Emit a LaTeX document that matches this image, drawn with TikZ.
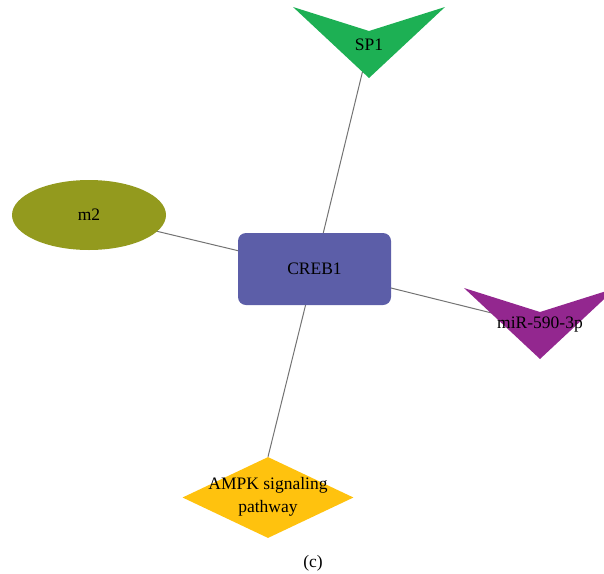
\documentclass[tikz,border=0pt]{standalone}
\usepackage{fontspec}
\setmainfont{Liberation Serif}
\usepackage{tikz}
\usetikzlibrary{shapes.geometric, backgrounds}
\definecolor{spgreen}{HTML}{1DB054}
\definecolor{mirpurple}{HTML}{93278F}
\definecolor{mtwoolive}{HTML}{939A1E}
\definecolor{crebblue}{HTML}{5C5EA8}
\definecolor{ampkyellow}{HTML}{FFC20E}

\begin{document}
\begin{tikzpicture}[
    x=1pt, y=-1pt,
    every node/.style = {font=\fontsize{17.5}{23}\selectfont, inner sep=0pt},
    gene/.style   = {rectangle, rounded corners=8pt, fill=crebblue,
                     minimum width=153pt, minimum height=72pt},
    module/.style = {ellipse, fill=mtwoolive,
                     minimum width=154pt, minimum height=70pt},
    pathway/.style = {diamond, fill=ampkyellow, aspect=2.1,
                     minimum width=171pt, minimum height=81pt},
    label/.style  = {align=center},
    edge/.style   = {draw=gray!90!black, line width=1pt},
]
\useasboundingbox (0,0) rectangle (604,573);

% Central gene
\node[gene] (creb) at (314.5,269) {CREB1};

% m2 (left)
\node[module] (m2) at (89,215) {m2};

% SP1 (top)
\fill[spgreen] (293,7) -- (369,31) -- (445,7) -- (369,78) -- cycle;
\node[label] (sp1) at (369,45) {SP1};

% miR-590-3p (right)
\fill[mirpurple] (464,288) -- (540,312) -- (616,288) -- (540,359) -- cycle;
\node[label] (mir) at (540,325) {miR-590-3p};

% AMPK signaling pathway (bottom)
\node[pathway] (ampk) at (268,497.5) {};
\node[label] (ampklabel) at (268,497) {AMPK signaling\\pathway};

% Links to CREB1
\begin{scope}[on background layer]
  \draw[edge] (creb.center) -- (sp1.center);
  \draw[edge] (creb.center) -- (m2.center);
  \draw[edge] (creb.center) -- (mir.center);
  \draw[edge] (creb.center) -- (ampk.north);
\end{scope}

% Panel tag
\node (tag) at (313,563) {(c)};

\end{tikzpicture}
\end{document}
